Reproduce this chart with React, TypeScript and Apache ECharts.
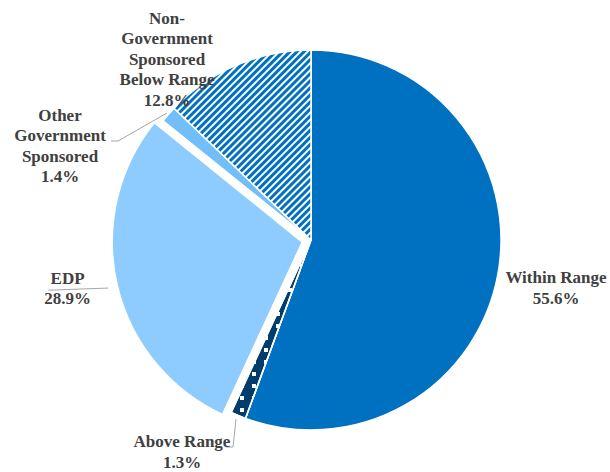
import React, { useEffect, useRef } from "react";
import * as echarts from "echarts";

const categories = [
  "Within Range",
  "Above Range",
  "EDP",
  "Other\nGovernment\nSponsored",
  "Non-\nGovernment\nSponsored\nBelow Range",
];
const values = [55.6, 1.3, 28.9, 1.4, 12.8];
const colors = ["#0070C0", "#003D6B", "#8ECBFF", "#72BEF9", "#FFFFFF"];

// label placement (center x, middle y) and leader lines
const labelPos: [number, number][] = [
  [556, 288],
  [182, 452],
  [35, 292],
  [60, 146],
  [167, 59],
];
const linePts: ([number, number][] | null)[] = [
  null,
  [[226, 447], [233, 447], [236, 419]],
  [[57, 288], [62, 288], [117, 286]],
  [[111, 141], [118, 141], [167, 113]],
  null,
];

export default function App() {
  const ref = useRef<HTMLDivElement>(null);
  useEffect(() => {
    document.body.style.margin = "0";
    const chart = echarts.init(ref.current!, null, { renderer: "svg" });
    const data = categories.map((name, i) => {
      const item: any = {
        name,
        value: values[i],
        itemStyle: { color: colors[i] },
        labelLine: { show: !!linePts[i] },
      };
      if (i === 1) {
        item.itemStyle.decal = {
          symbol: "rect",
          symbolSize: 1,
          color: "#FFFFFF",
          dashArrayX: [[4, 8]],
          dashArrayY: [4, 8],
        };
      }
      if (i === 4) {
        item.itemStyle.decal = {
          symbol: "rect",
          symbolSize: 1,
          color: "#0070C0",
          dashArrayX: [1, 0],
          dashArrayY: [2.4, 2],
          rotation: -Math.PI / 4,
        };
      }
      if (i === 2) item.selected = true;
      return item;
    });
    chart.setOption({
      animation: false,
      aria: { enabled: false, decal: { show: false } },
      series: [
        {
          type: "pie",
          center: [311, 240],
          radius: [0, 190],
          startAngle: 90,
          clockwise: true,
          selectedMode: "single",
          selectedOffset: 9,
          avoidLabelOverlap: false,
          emphasis: { disabled: true },
          select: { itemStyle: { borderColor: "#FFFFFF", borderWidth: 1.5 } },
          itemStyle: { borderColor: "#FFFFFF", borderWidth: 1.5 },
          label: {
            show: true,
            formatter: (p: any) => `${p.name}\n${p.value.toFixed(1)}%`,
            fontFamily: "Liberation Serif",
            fontWeight: "bold",
            fontSize: 17,
            lineHeight: 20.5,
            color: "#404040",
            align: "center",
          },
          labelLine: {
            show: true,
            lineStyle: { color: "#A6A6A6", width: 1 },
          },
          labelLayout: (params: any) => {
            const i = params.dataIndex;
            const res: any = {
              x: labelPos[i][0],
              y: labelPos[i][1],
              align: "center",
              verticalAlign: "middle",
            };
            if (linePts[i]) res.labelLinePoints = linePts[i];
            return res;
          },
          data,
        },
      ],
    });
    return () => chart.dispose();
  }, []);
  return <div ref={ref} style={{ width: 610, height: 472 }} />;
}
